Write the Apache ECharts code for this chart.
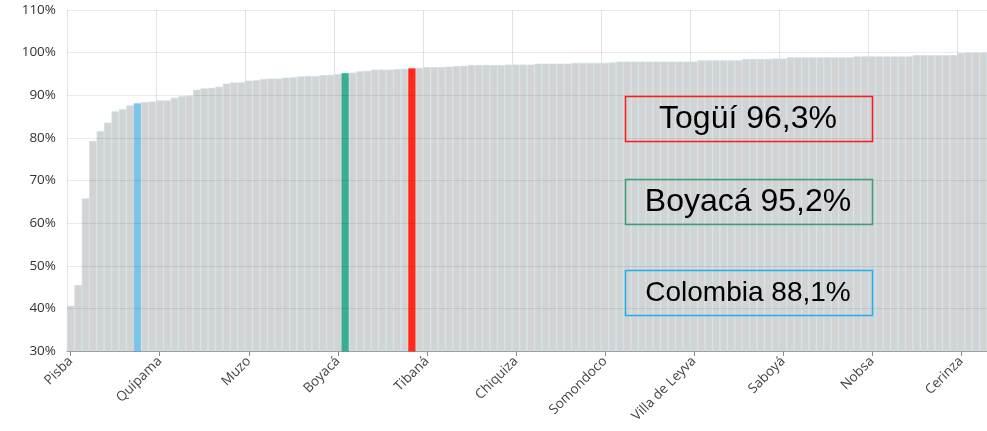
<!DOCTYPE html>
<html>
<head>
<meta charset="utf-8">
<script src="https://cdn.jsdelivr.net/npm/echarts@6/dist/echarts.min.js"></script>
<style>html,body{margin:0;padding:0;background:#fff}#c{width:987px;height:431px}</style>
</head>
<body>
<div id="c"></div>
<script>
const categories = ["Pisba","Paya","Labranzagrande","Cubará","Chita","San Luis de Gaceno","Otanche","Pajarito","Puerto Boyacá","Colombia",
"San Pablo de Borbur","Maripí","Quípama","Pauna","Briceño","Tununguá","Coper","Socotá","Santa María","Campohermoso",
"Chiscas","Güicán","Buenavista","Chivor","Muzo","Miraflores","Páez","Macanal","Zetaquira","Rondón",
"Berbeo","El Espino","La Victoria","Almeida","Chitaraque","Gámeza","Boyacá","Boyacá (Departamento)","Tasco","Mongua",
"San Eduardo","Pachavita","Jericó","San Mateo","Covarachía","Tópaga","Togüí","Ráquira","Tibaná","Úmbita",
"Garagoa","Socha","Tutazá","Guacamayas","Moniquirá","Sativanorte","La Uvita","Boavita","Panqueba","Chinavita",
"Chiquiza","Caldas","Aquitania","San Miguel de Sema","Viracachá","Cuítiva","Ciénega","Santana","Sativasur","Betéitiva",
"Tipacoque","Guayatá","Somondoco","Susacón","El Cocuy","Ramiriquí","Soatá","Gachantivá","Jenesano","San José de Pare",
"Sutatenza","Tenza","Guateque","Arcabuco","Villa de Leyva","La Capilla","Tinjacá","Busbanzá","Floresta","Corrales",
"Monguí","Pesca","Siachoque","Turmequé","Sora","Cucaita","Saboyá","Santa Sofía","Sutamarchán","Sáchica",
"Samacá","Toca","Tota","Tuta","Cómbita","Motavita","Oicatá","Iza","Nobsa","Firavitoba",
"Belén","Sotaquirá","Soracá","Ventaquemada","Chivatá","Nuevo Colón","Santa Rosa de Viterbo","Paz de Río","Tibasosa","Chiquinquirá",
"Cerinza","Paipa","Duitama","Sogamoso"];

const values = [40.6,45.5,65.8,79.3,81.6,83.6,86.2,86.7,87.6,88.1,
88.4,88.5,88.8,88.8,89.4,89.8,89.9,91.3,91.6,91.7,
92.0,92.7,93.0,93.0,93.4,93.5,93.8,93.9,93.9,94.1,
94.2,94.4,94.5,94.5,94.7,94.8,95.0,95.2,95.3,95.6,
95.7,96.0,96.0,96.0,96.1,96.2,96.3,96.4,96.6,96.6,
96.6,96.7,96.8,96.9,97.1,97.1,97.1,97.1,97.1,97.2,
97.2,97.2,97.2,97.4,97.4,97.4,97.4,97.4,97.6,97.6,
97.6,97.6,97.6,97.7,97.9,97.9,97.9,97.9,97.9,97.9,
97.9,97.9,97.9,97.9,97.9,98.2,98.2,98.2,98.2,98.2,
98.2,98.5,98.5,98.5,98.5,98.6,98.6,98.9,98.9,98.9,
98.9,98.9,98.9,98.9,98.9,98.9,99.1,99.1,99.1,99.1,
99.1,99.1,99.1,99.1,99.4,99.4,99.4,99.4,99.4,99.4,
99.9,100.0,100.0,100.0];

const yTicks = [30,40,50,60,70,80,90,100,110];

const highlightNames = ["Togüí","Boyacá (Departamento)","Colombia"];
const highlightLabels = ["Togüí","Boyacá","Colombia"];
const highlightColors = ["#ff2a1a","#3aae92","#7cc3ea"];
const boxBorderColors = ["#ff1a1a","#3f9e74","#1fb0ec"];

const fmt = v => v.toFixed(1).replace('.', ',') + '%';

const seriesData = values.map((v, i) => {
  const h = highlightNames.indexOf(categories[i]);
  if (h >= 0) {
    return { value: v, itemStyle: { color: highlightColors[h], borderColor: highlightColors[h] } };
  }
  return v;
});

const boxTops = [96, 179, 270];
const boxFontSizes = [32, 32, 28];
const graphics = [];
highlightNames.forEach((n, k) => {
  const v = values[categories.indexOf(n)];
  graphics.push({
    type: 'rect', z: 100,
    shape: { x: 625.5, y: boxTops[k] + 0.5, width: 247, height: 45 },
    style: { fill: null, stroke: boxBorderColors[k], lineWidth: 1.5 }
  });
  graphics.push({
    type: 'text', z: 101,
    x: 748, y: boxTops[k] + 23,
    style: { text: highlightLabels[k] + ' ' + fmt(v), fill: '#000',
      fontSize: boxFontSizes[k], fontFamily: 'Liberation Sans', align: 'center', verticalAlign: 'middle' }
  });
});

const chart = echarts.init(document.getElementById('c'), null, { renderer: 'canvas' });
chart.setOption({
  animation: false,
  grid: { left: 67, right: 0, top: 10, bottom: 80 },
  xAxis: {
    type: 'category',
    data: categories,
    boundaryGap: true,
    axisLine: { show: true, lineStyle: { color: '#9a9a9a', width: 1 } },
    axisTick: { show: true, alignWithLabel: true, interval: 11, length: 5, lineStyle: { color: '#8a8a8a' } },
    axisLabel: { interval: 11, rotate: 45, color: '#444', fontSize: 13.5, fontFamily: 'Open Sans', margin: 8 },
    splitLine: { show: true, interval: 11, lineStyle: { color: '#e2e2e2' } }
  },
  yAxis: {
    type: 'value',
    min: yTicks[0], max: yTicks[yTicks.length - 1], interval: 10,
    z: 3,
    axisLine: { show: false },
    axisTick: { show: false },
    axisLabel: { formatter: '{value}%', color: '#333', fontSize: 13.5, fontFamily: 'Open Sans', margin: 11 },
    splitLine: { show: true, lineStyle: { color: 'rgba(0,0,0,0.08)' } }
  },
  series: [{
    type: 'bar',
    data: seriesData,
    barCategoryGap: '0%',
    itemStyle: { color: '#d3d3d3', borderColor: '#c8dfe9', borderWidth: 0.7 }
  }],
  graphic: graphics
});
</script>
</body>
</html>
